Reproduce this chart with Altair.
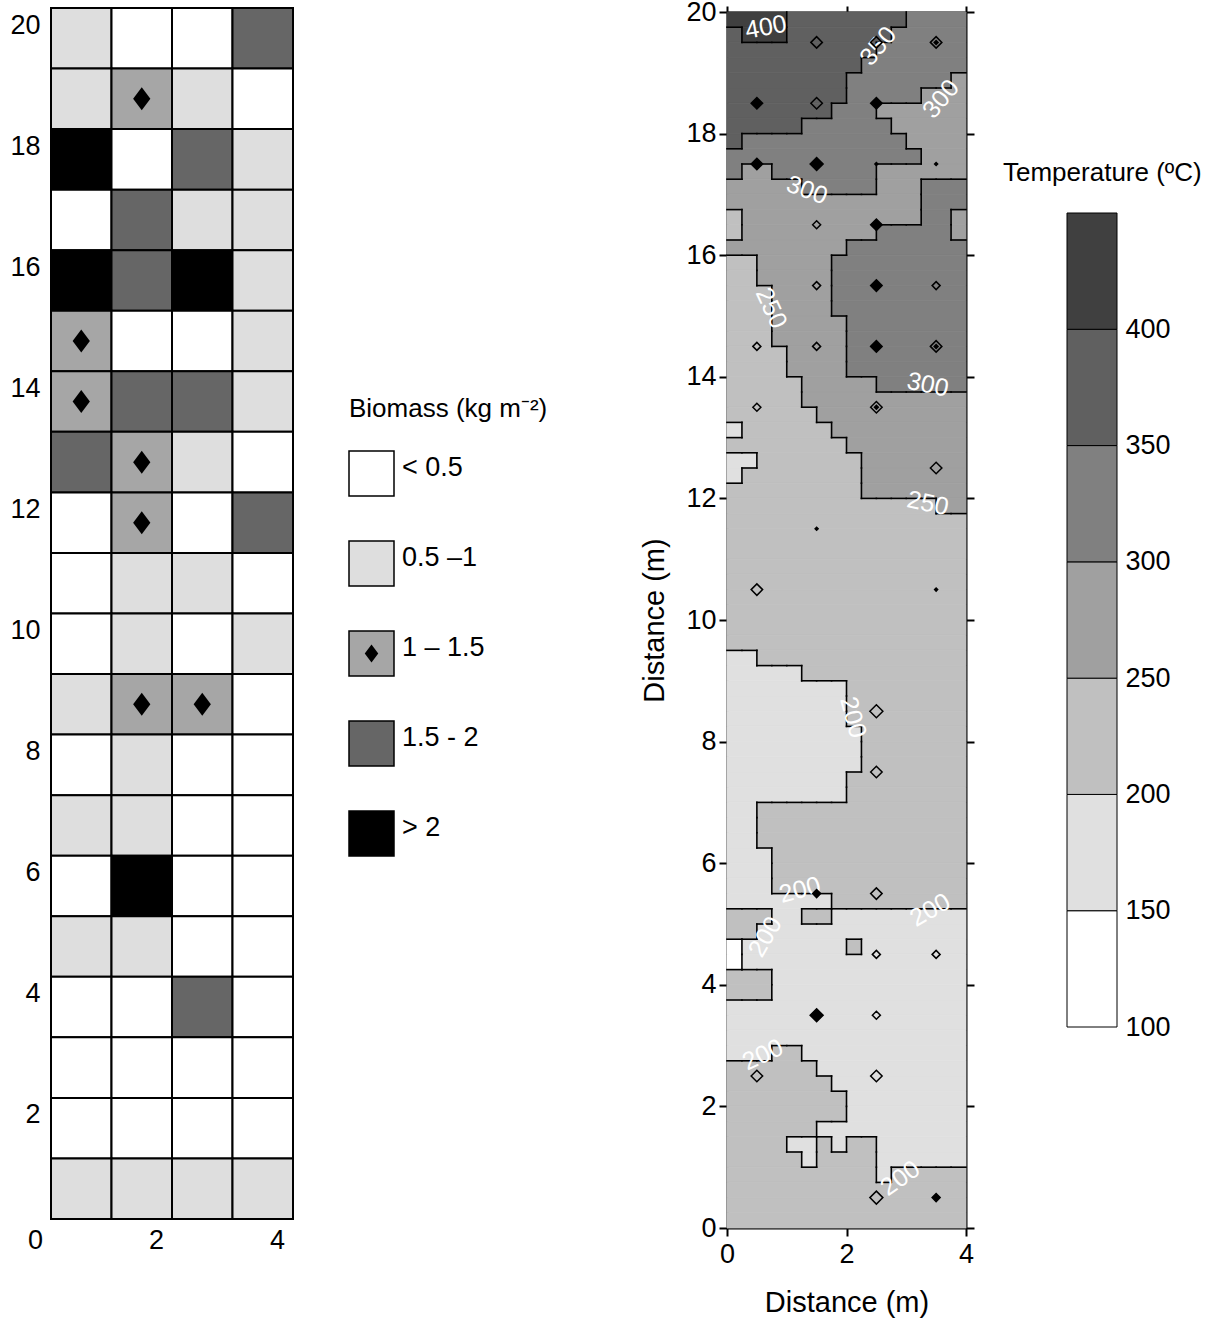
import altair as alt
import pandas as pd

FONT = "Liberation Sans"
FS = 27        # tick and legend labels
FS_LT = 26     # legend titles
FS_AX = 29     # axis titles

# ---------------- Left panel: biomass classes (rows from 19-20 m down to 0-1 m) ----------------
biomass_classes = ["< 0.5", "0.5 –1", "1 – 1.5", "1.5 - 2", "> 2"]
biomass_colors = ["#ffffff", "#dedede", "#a6a6a6", "#666666", "#000000"]
biomass_rows = [
    [1, 0, 0, 3],
    [1, 2, 1, 0],
    [4, 0, 3, 1],
    [0, 3, 1, 1],
    [4, 3, 4, 1],
    [2, 0, 0, 1],
    [2, 3, 3, 1],
    [3, 2, 1, 0],
    [0, 2, 0, 3],
    [0, 1, 1, 0],
    [0, 1, 0, 1],
    [1, 2, 2, 0],
    [0, 1, 0, 0],
    [1, 1, 0, 0],
    [0, 4, 0, 0],
    [1, 1, 0, 0],
    [0, 0, 3, 0],
    [0, 0, 0, 0],
    [0, 0, 0, 0],
    [1, 1, 1, 1],
]

# ---------------- Right panel: temperature class grid (0.25 m cells, top row = 19.75-20 m) ----------------
# class digits: 1=100-150, 2=150-200, 3=200-250, 4=250-300, 5=300-350, 6=350-400, 7=400-450
temp_rows = [
    "7777666666665555",
    "6777666666655555",
    "6666666666555555",
    "6666666665555555",
    "6666666655555554",
    "6666666655555444",
    "6666666555444444",
    "6666655555544444",
    "6555555555554444",
    "5555555555555444",
    "5445555555444444",
    "4444455555444555",
    "4444444444444555",
    "3444444444444554",
    "3444444444555554",
    "4444444455555555",
    "3344444555555555",
    "3344444555555555",
    "3334444555555555",
    "3334444555555555",
    "3334444455555555",
    "3334444455555555",
    "3333444455555555",
    "3333444455555555",
    "3333344444555555",
    "3333344444444444",
    "3333334444444444",
    "2333333444444444",
    "3333333344444444",
    "2233333334444444",
    "2333333334444444",
    "3333333334444444",
    "3333333333333344",
    "3333333333333333",
    "3333333333333333",
    "3333333333333333",
    "3333333333333333",
    "3333333333333333",
    "3333333333333333",
    "3333333333333333",
    "3333333333333333",
    "3333333333333333",
    "2233333333333333",
    "2222233333333333",
    "2222222233333333",
    "2222222233333333",
    "2222222233333333",
    "2222222223333333",
    "2222222223333333",
    "2222222223333333",
    "2222222233333333",
    "2222222233333333",
    "2233333333333333",
    "2233333333333333",
    "2233333333333333",
    "2223333333333333",
    "2223333333333333",
    "2223333333333333",
    "2222222333333333",
    "3332233222222222",
    "3322222222222222",
    "1222222232222222",
    "1222222222222222",
    "3332222222222222",
    "3332222222222222",
    "2222222222222222",
    "2222222222222222",
    "2222222222222222",
    "2223322222222222",
    "3333332222222222",
    "3333333222222222",
    "3333333322222222",
    "3333333322222222",
    "3333332222222222",
    "3333223233222222",
    "3333323333222222",
    "3333333333233333",
    "3333333333333333",
    "3333333333333333",
    "3333333333333333",
]
temp_keys = ["1", "2", "3", "4", "5", "6", "7"]
temp_lo = [100, 150, 200, 250, 300, 350, 400]
temp_hi = [150, 200, 250, 300, 350, 400, 450]
temp_colors = ["#ffffff", "#e0e0e0", "#c0c0c0", "#a0a0a0", "#808080", "#606060", "#404040"]
temp_ticks = [100, 150, 200, 250, 300, 350, 400]

# sample-point markers on the temperature map
mk_x = [1.5, 2.5, 3.5, 0.5, 1.5, 2.5, 0.5, 1.5, 2.5, 3.5, 1.5, 2.5, 1.5, 2.5, 3.5, 0.5, 1.5, 2.5, 3.5,
        0.5, 2.5, 3.5, 1.5, 0.5, 3.5, 2.5, 2.5, 1.5, 2.5, 2.5, 3.5, 1.5, 2.5, 0.5, 2.5, 2.5, 3.5]
mk_y = [19.5, 19.5, 19.5, 18.5, 18.5, 18.5, 17.5, 17.5, 17.5, 17.5, 16.5, 16.5, 15.5, 15.5, 15.5,
        14.5, 14.5, 14.5, 14.5, 13.5, 13.5, 12.5, 11.5, 10.5, 10.5, 8.5, 7.5, 5.5, 5.5, 4.5, 4.5,
        3.5, 3.5, 2.5, 2.5, 0.5, 0.5]
mk_type = ["open", "open", "double", "filled", "open", "filled", "filled", "filled", "dot", "dot",
           "open", "filled", "open", "filled", "open", "open", "open", "filled", "double",
           "open", "double", "open", "dot", "open", "dot", "open", "open", "filled", "open",
           "open", "open", "filled", "open", "open", "open", "open", "filled"]
mk_size = [3, 3, 3, 3, 3, 3, 3, 4, 1, 1, 2, 3, 2, 3, 2, 2, 2, 3, 3, 2, 3, 3, 1, 3, 1, 4, 3, 2, 3,
           2, 2, 4, 2, 3, 3, 4, 2]

# contour labels
lab_x = [0.65, 2.53, 3.58, 1.34, 0.74, 3.36, 3.36, 2.11, 1.22, 3.40, 0.64, 0.60, 2.90]
lab_y = [19.75, 19.44, 18.57, 17.07, 15.13, 13.87, 11.92, 8.40, 5.56, 5.23, 4.79, 2.85, 0.82]
lab_t = ["400", "350", "300", "300", "250", "300", "250", "200", "200", "200", "200", "200", "200"]
lab_a = [350, 310, 310, 20, 65, 12, 12, 75, 345, 330, 300, 335, 325]

# ---------------- derived tables ----------------
left_recs = []
for r, row in enumerate(biomass_rows):
    top = 20 - r
    for c, k in enumerate(row):
        left_recs.append(dict(x0=c, x1=c + 1, y0=top - 1, y1=top, xc=c + 0.5, yc=top - 0.5,
                              cls=biomass_classes[k], k=k))
left_df = pd.DataFrame(left_recs)

NR, NC = len(temp_rows), len(temp_rows[0])
dx, dy = 4 / NC, 20 / NR
cells, segs = [], []
for r, s in enumerate(temp_rows):
    ytop = 20 - r * dy
    ybot = ytop - dy
    c = 0
    while c < NC:
        c2 = c
        while c2 + 1 < NC and s[c2 + 1] == s[c]:
            c2 += 1
        cells.append(dict(x0=c * dx, x1=(c2 + 1) * dx, y0=ybot, y1=ytop, cls=s[c]))
        c = c2 + 1
    for c in range(NC - 1):
        if s[c] != s[c + 1]:
            segs.append(dict(x=(c + 1) * dx, x2=(c + 1) * dx, y=ybot, y2=ytop))
    if r + 1 < NR:
        t = temp_rows[r + 1]
        for c in range(NC):
            if s[c] != t[c]:
                segs.append(dict(x=c * dx, x2=(c + 1) * dx, y=ybot, y2=ybot))
cells_df = pd.DataFrame(cells)
segs_df = pd.DataFrame(segs)
mk_df = pd.DataFrame(dict(x=mk_x, y=mk_y, t=mk_type, s=mk_size))
lab_df = pd.DataFrame(dict(x=lab_x, y=lab_y, t=lab_t, a=lab_a))
cbar_df = pd.DataFrame(dict(lo=temp_lo, hi=temp_hi, cls=temp_keys))
legend_df = pd.DataFrame(dict(label=biomass_classes, k=list(range(5))))

# ---------------- scales (pixel placement of each panel) ----------------
LX = alt.Scale(domain=[0, 4], range=[51, 293], nice=False, zero=False)
LY = alt.Scale(domain=[0, 20], range=[1219, 8], nice=False, zero=False)
RX = alt.Scale(domain=[0, 4], range=[727, 966], nice=False, zero=False)
RY = alt.Scale(domain=[0, 20], range=[1228, 12], nice=False, zero=False)
CY = alt.Scale(domain=[100, 450], range=[1027, 213], nice=False, zero=False)
LEGY = alt.Scale(type="band", domain=biomass_classes, range=[451, 856], paddingInner=0.5, paddingOuter=0)
BIOCOL = alt.Scale(domain=biomass_classes, range=biomass_colors)
TCOL = alt.Scale(domain=temp_keys, range=temp_colors)

DIAMOND = "M0,-1L0.75,0L0,1L-0.75,0Z"

lab_common = dict(labelFont=FONT, labelFontSize=FS, labelColor="black", grid=False)
ttl_common = dict(titleFont=FONT, titleFontSize=FS_AX, titleFontWeight="normal", titleColor="black")

# ---------------- left panel ----------------
left_cells = alt.Chart(left_df).mark_rect(stroke="black", strokeWidth=2).encode(
    x=alt.X("x0:Q", scale=LX, axis=alt.Axis(orient="bottom", offset=-108, values=[0, 2, 4],
                                             ticks=False, domain=False, labelOffset=-16, labelPadding=8,
                                             labelFlush=False, title=None, **lab_common)),
    x2="x1:Q",
    y=alt.Y("y0:Q", scale=LY, axis=alt.Axis(orient="left", offset=-51, values=list(range(2, 21, 2)),
                                             ticks=False, domain=False, labelOffset=17, labelPadding=11,
                                             labelFlush=False, title=None, **lab_common)),
    y2="y1:Q",
    color=alt.Color("cls:N", scale=BIOCOL, legend=None),
)
left_diam = alt.Chart(left_df).transform_filter("datum.k == 2").mark_point(
    shape=DIAMOND, filled=True, color="black", opacity=1, size=529
).encode(
    x=alt.X("xc:Q", scale=LX, axis=None),
    y=alt.Y("yc:Q", scale=LY, axis=None),
)

# ---------------- biomass legend ----------------
leg_rect = alt.Chart(legend_df).mark_rect(stroke="black", strokeWidth=1.5).encode(
    x=alt.value(349), x2=alt.value(394),
    y=alt.Y("label:N", scale=LEGY, axis=None),
    color=alt.Color("label:N", scale=BIOCOL, legend=None),
)
leg_diam = alt.Chart(legend_df).transform_filter("datum.k == 2").mark_point(
    shape=DIAMOND, filled=True, color="black", opacity=1, size=324
).encode(x=alt.value(371.5), y=alt.Y("label:N", scale=LEGY, axis=None))
leg_text = alt.Chart(legend_df).mark_text(align="left", baseline="middle", dy=-6, font=FONT,
                                          fontSize=FS, color="black").encode(
    x=alt.value(402), y=alt.Y("label:N", scale=LEGY, axis=None), text="label:N")
leg_title = alt.Chart(pd.DataFrame({"t": ["Biomass (kg m\u207b\u00b2)"]})).mark_text(
    align="left", baseline="middle", font=FONT, fontSize=FS_LT, color="black"
).encode(x=alt.value(349), y=alt.value(409), text="t:N")

# ---------------- right panel ----------------
right_cells = alt.Chart(cells_df).mark_rect(strokeWidth=0.8).encode(
    x=alt.X("x0:Q", scale=RX, axis=alt.Axis(orient="bottom", offset=-99, values=[0, 2, 4],
                                             tickSize=8, tickWidth=2, tickColor="black",
                                             domainWidth=2, domainColor="black", labelPadding=5,
                                             labelFlush=False, title="Distance (m)", titlePadding=21,
                                             **lab_common, **ttl_common)),
    x2="x1:Q",
    y=alt.Y("y0:Q", scale=RY, axis=alt.Axis(orient="left", offset=-727, values=list(range(0, 21, 2)),
                                             tickSize=8, tickWidth=2, tickColor="black",
                                             domainWidth=2, domainColor="black", labelPadding=3,
                                             labelFlush=False, title="Distance (m)", titlePadding=16,
                                             **lab_common, **ttl_common)),
    y2="y1:Q",
    color=alt.Color("cls:N", scale=TCOL, legend=None),
    stroke=alt.Stroke("cls:N", scale=TCOL, legend=None),
)
right_lines = alt.Chart(segs_df).mark_rule(color="black", strokeWidth=1.6, strokeCap="square").encode(
    x=alt.X("x:Q", scale=RX, axis=None), x2="x2:Q",
    y=alt.Y("y:Q", scale=RY, axis=None), y2="y2:Q",
)
right_labels = alt.Chart(lab_df).mark_text(color="white", font=FONT, fontSize=25).encode(
    x=alt.X("x:Q", scale=RX, axis=None),
    y=alt.Y("y:Q", scale=RY, axis=None),
    text="t:N",
    angle=alt.Angle("a:Q", scale=None),
)
right_marks = alt.Chart(mk_df).mark_point(shape="diamond", filled=True, stroke="black",
                                          strokeWidth=1.5, opacity=1).encode(
    x=alt.X("x:Q", scale=RX, axis=alt.Axis(orient="top", offset=-12, values=[0, 2, 4], labels=False,
                                           tickSize=6, tickWidth=2, tickColor="black", domainWidth=2,
                                           domainColor="black", title=None, grid=False)),
    y=alt.Y("y:Q", scale=RY, axis=alt.Axis(orient="right", offset=-255, values=list(range(0, 21, 2)),
                                           labels=False, tickSize=8, tickWidth=2, tickColor="black",
                                           domainWidth=2, domainColor="black", title=None, grid=False)),
    fill=alt.Fill("t:N", scale=alt.Scale(domain=["filled", "open", "double", "dot"],
                                         range=["black", "transparent", "transparent", "black"]),
                  legend=None),
    size=alt.Size("s:Q", scale=alt.Scale(domain=[1, 2, 3, 4], range=[9, 64, 132, 169]), legend=None),
)
right_inner = alt.Chart(mk_df).transform_filter("datum.t == 'double'").mark_point(
    shape="diamond", filled=True, color="black", opacity=1, size=36
).encode(x=alt.X("x:Q", scale=RX, axis=None), y=alt.Y("y:Q", scale=RY, axis=None))

# ---------------- temperature colour bar ----------------
cbar = alt.Chart(cbar_df).mark_rect(stroke="black", strokeWidth=1).encode(
    x=alt.value(1067), x2=alt.value(1117),
    y=alt.Y("lo:Q", scale=CY, axis=alt.Axis(orient="right", offset=-104, values=temp_ticks,
                                             ticks=False, domain=False, labelPadding=8,
                                             labelFlush=False, title=None, **lab_common)),
    y2="hi:Q",
    color=alt.Color("cls:N", scale=TCOL, legend=None),
)
cbar_title = alt.Chart(pd.DataFrame({"t": ["Temperature (\u00baC)"]})).mark_text(
    align="left", baseline="middle", font=FONT, fontSize=FS_LT, color="black"
).encode(x=alt.value(1003), y=alt.value(173), text="t:N")

chart = alt.layer(
    left_cells, left_diam,
    leg_rect, leg_diam, leg_text, leg_title,
    right_cells, right_lines, right_labels, right_marks, right_inner,
    cbar, cbar_title,
).resolve_scale(
    x="independent", y="independent", color="independent", stroke="independent",
    fill="independent", size="independent",
).properties(
    width=1221, height=1327, padding=0, autosize=alt.AutoSizeParams(type="none"),
).configure_view(stroke=None)

chart.save("out.html", embed_options={"renderer": "svg", "actions": False})
